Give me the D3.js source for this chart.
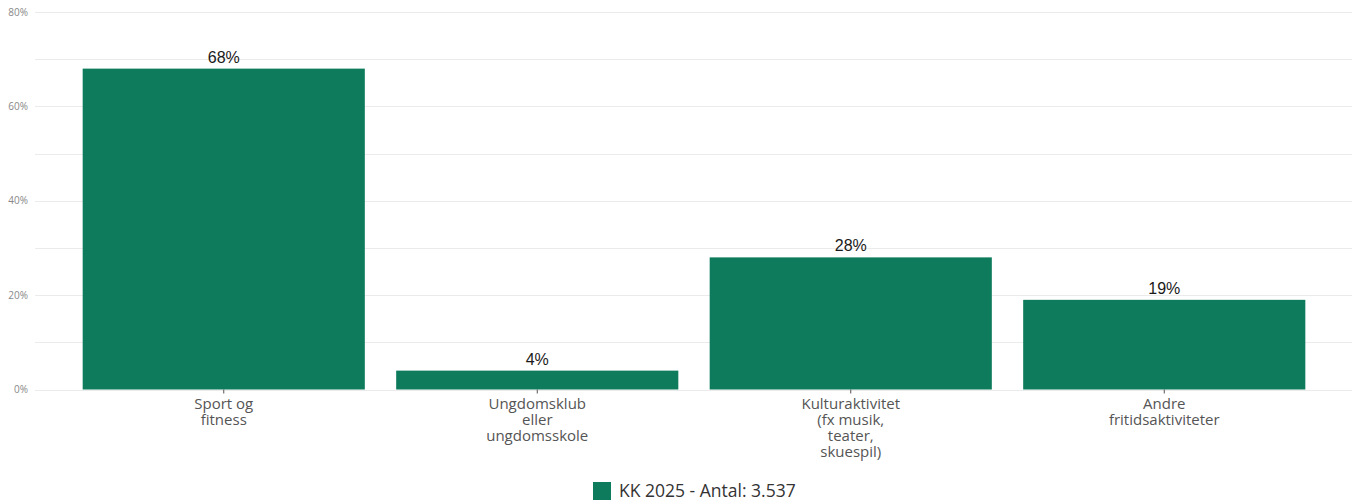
<!DOCTYPE html>
<html>
<head>
<meta charset="utf-8" />
<title>fritid</title>
<script src="https://cdn.jsdelivr.net/npm/d3@7"></script>
<style>
  body { margin: 0; background: #fff; }
  text { font-family: "Open Sans", "Noto Sans", sans-serif; }
  text.val { font-family: "Liberation Sans", Arial, sans-serif; }
</style>
</head>
<body>
<svg width="1357" height="502"></svg>
<script>
  // data
  var categories = [
    ["Sport og", "fitness"],
    ["Ungdomsklub", "eller", "ungdomsskole"],
    ["Kulturaktivitet", "(fx musik,", "teater,", "skuespil)"],
    ["Andre", "fritidsaktiviteter"]
  ]
  var values = [68, 4, 28, 19]
  var yTicks = [0, 20, 40, 60, 80]
  var seriesName = "KK 2025 - Antal: 3.537"

  var svg = d3.select("svg")
  var color = "#0e7c5c"

  var x = d3.scaleBand()
    .domain(d3.range(values.length))
    .range([67, 1321])
    .paddingInner(0.1)
    .paddingOuter(0.05)

  var y = d3.scaleLinear()
    .domain([0, 80])
    .range([389.5, 12])

  // gridlines, every 10%
  svg.append("g").selectAll("line")
    .data(d3.range(0, 81, 10))
    .enter().append("line")
    .attr("x1", 35).attr("x2", 1352)
    .attr("y1", d => Math.round(y(d)) + 0.5)
    .attr("y2", d => Math.round(y(d)) + 0.5)
    .attr("stroke", "#ebebeb")
    .attr("stroke-width", 1)

  // y labels
  svg.append("g").selectAll("text")
    .data(yTicks)
    .enter().append("text")
    .attr("x", 28)
    .attr("y", d => y(d))
    .attr("dy", "0.35em")
    .attr("text-anchor", "end")
    .attr("font-size", "10px")
    .attr("fill", "#888")
    .text(d => d + "%")

  // bars
  svg.append("g").selectAll("rect")
    .data(values)
    .enter().append("rect")
    .attr("x", (d, i) => x(i))
    .attr("y", d => y(d))
    .attr("width", x.bandwidth())
    .attr("height", d => y(0) - y(d))
    .attr("fill", color)

  // value labels
  svg.append("g").selectAll("text")
    .data(values)
    .enter().append("text")
    .attr("class", "val")
    .attr("x", (d, i) => x(i) + x.bandwidth() / 2)
    .attr("y", d => y(d) - 6)
    .attr("text-anchor", "middle")
    .attr("font-size", "16px")
    .attr("fill", "#1a1a1a")
    .text(d => d + "%")

  // x axis
  var xAxis = d3.axisBottom(x).tickSize(4).tickFormat("")
  var ax = svg.append("g")
    .attr("transform", "translate(0," + y(0) + ")")
    .call(xAxis)
  ax.select(".domain").remove()
  ax.selectAll(".tick line").attr("stroke", "#555")

  var lbl = svg.append("g").selectAll("text")
    .data(categories)
    .enter().append("text")
    .attr("text-anchor", "middle")
    .attr("font-size", "15px")
    .attr("fill", "#555")
    .attr("x", (d, i) => x(i) + x.bandwidth() / 2)
    .attr("y", 409)
  lbl.selectAll("tspan")
    .data(d => d)
    .enter().append("tspan")
    .attr("x", function () { return d3.select(this.parentNode).attr("x") })
    .attr("dy", (d, i) => i == 0 ? 0 : 16)
    .text(d => d)

  // legend
  var lg = svg.append("g").attr("transform", "translate(593,482)")
  lg.append("rect").attr("width", 18).attr("height", 18).attr("fill", color)
  lg.append("text")
    .attr("x", 26).attr("y", 9).attr("dy", "0.35em")
    .attr("font-size", "17.5px")
    .attr("fill", "#333")
    .text(seriesName)
</script>
</body>
</html>
